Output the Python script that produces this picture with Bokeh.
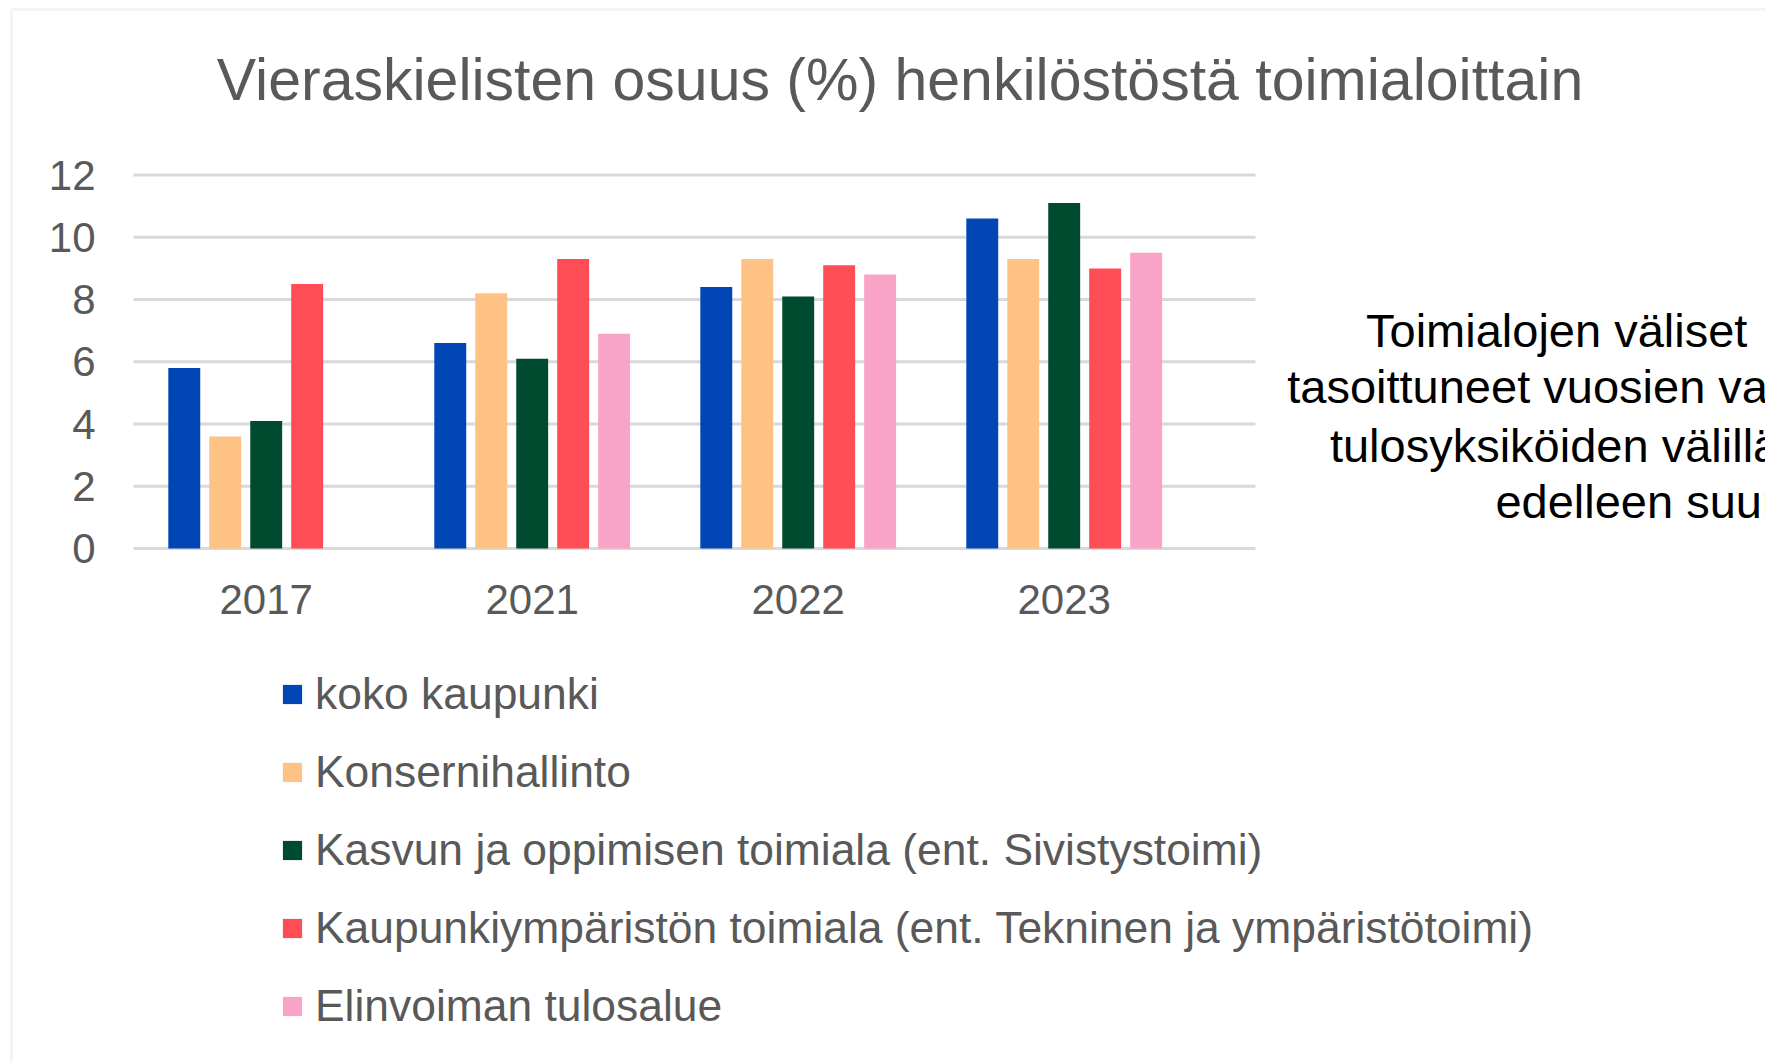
from bokeh.plotting import figure
from bokeh.models import Range1d, Legend, LegendItem, Label, BoxAnnotation
from bokeh.core.properties import value
from bokeh.embed import file_html
from bokeh.resources import INLINE

# ---------------- data ----------------
years = ["2017", "2021", "2022", "2023"]
series_names = [
    "koko kaupunki",
    "Konsernihallinto",
    "Kasvun ja oppimisen toimiala (ent. Sivistystoimi)",
    "Kaupunkiympäristön toimiala (ent. Tekninen ja ympäristötoimi)",
    "Elinvoiman tulosalue",
]
koko_kaupunki = [5.8, 6.6, 8.4, 10.6]
konsernihallinto = [3.6, 8.2, 9.3, 9.3]
kasvun_ja_oppimisen = [4.1, 6.1, 8.1, 11.1]
kaupunkiymparisto = [8.5, 9.3, 9.1, 9.0]
elinvoima = [None, 6.9, 8.8, 9.5]
y_ticks = [0, 2, 4, 6, 8, 10, 12]
title_text = "Vieraskielisten osuus (%) henkilöstöstä toimialoittain"
note_lines = [
    "Toimialojen väliset",
    "tasoittuneet vuosien varrella",
    "tulosyksiköiden välillä",
    "edelleen suuria",
]

series_values = [koko_kaupunki, konsernihallinto, kasvun_ja_oppimisen, kaupunkiymparisto, elinvoima]
colors = ["#0046B4", "#FFC285", "#004B2F", "#FF4D55", "#F9A3C6"]

FONT = "Liberation Sans"
GREY = "#595959"

# ---------------- layout (canvas pixels; frame = whole canvas) ----------------
W, H = 1765, 1063
CAT0_PX, CAT_PX = 265.7, 266.0      # centre of first category, px per category
Y0_PX, PX_PER_UNIT = 548.0, 31.125  # y=0 line, px per unit
PLOT_L, PLOT_R = 133, 1255          # extent of the plot area


def dx(px):
    return (px - CAT0_PX) / CAT_PX


def dy(py):
    return (Y0_PX - py) / PX_PER_UNIT


p = figure(
    width=W, height=H,
    x_range=Range1d(dx(0), dx(W)), y_range=Range1d(dy(H), dy(0)),
    min_border=0, x_axis_type=None, y_axis_type=None,
    output_backend="svg", toolbar_location=None,
)
p.outline_line_color = None
p.background_fill_color = "white"
p.border_fill_color = "white"

# gridlines
p.segment(x0=[dx(PLOT_L)] * len(y_ticks), x1=[dx(PLOT_R)] * len(y_ticks),
          y0=y_ticks, y1=y_ticks, line_color="#D9D9D9", line_width=3)

# bars
step = 0.154
bar_w = 0.12
renderers = []
for j, (vals, col) in enumerate(zip(series_values, colors)):
    xs = [i + (j - 2) * step for i in range(len(years))]
    tops = [float("nan") if v is None else v for v in vals]
    r = p.vbar(x=xs, top=tops, bottom=0, width=bar_w, fill_color=col, line_color=None)
    renderers.append(r)

# tick labels
p.text(x=[dx(95)] * len(y_ticks), y=y_ticks, text=[str(t) for t in y_ticks],
       text_align="right", text_baseline="middle",
       text_font=value(FONT), text_font_size="42px", text_color=GREY)
p.text(x=list(range(len(years))), y=[dy(599)] * len(years), text=years,
       text_align="center", text_baseline="middle",
       text_font=value(FONT), text_font_size="42px", text_color=GREY)

# legend
legend = Legend(
    items=[LegendItem(label=n, renderers=[r]) for n, r in zip(series_names, renderers)],
    location=(280, 32), orientation="vertical",
    label_text_font=FONT, label_text_font_size="44.4px", label_text_color=GREY,
    glyph_width=24, glyph_height=24, label_height=50, label_standoff=11,
    spacing=28, padding=0, margin=0,
    border_line_color=None, background_fill_alpha=0,
)
p.add_layout(legend)

# title
p.add_layout(Label(
    x=dx(899.5), y=dy(79), text=title_text, text_align="center", text_baseline="middle",
    text_font=FONT, text_font_size="59px", text_color=GREY,
))

# side note
note_x = [1365.5, 1286.7, 1329.4, 1494.9]
note_y = [330, 386, 444.6, 501]
for t, px, py in zip(note_lines, note_x, note_y):
    p.add_layout(Label(
        x=dx(px), y=dy(py), text=t, text_align="left", text_baseline="middle",
        text_font=FONT, text_font_size="47px", text_color="black",
    ))

# outer border (left and top edges visible)
p.add_layout(BoxAnnotation(
    left=dx(11), right=dx(W + 50), top=dy(9), bottom=dy(H + 50),
    fill_alpha=0, line_color="#D9D9D9", line_width=3,
))

open("out.html", "w").write(file_html(p, INLINE))
